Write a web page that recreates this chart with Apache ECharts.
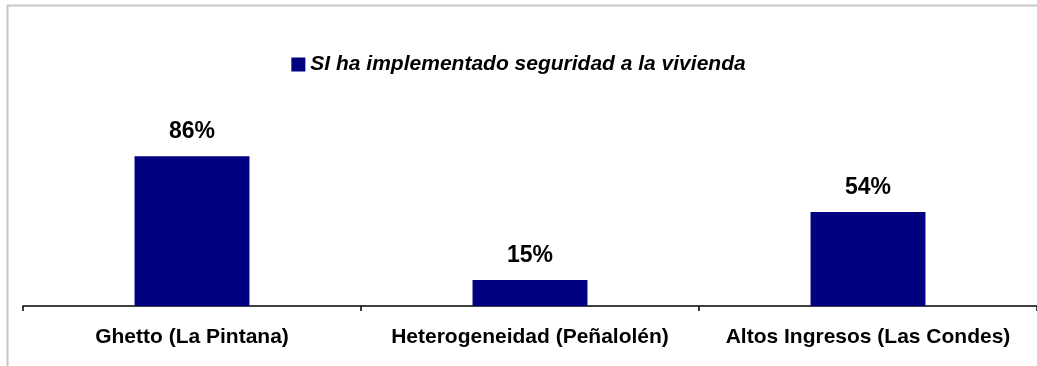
<!DOCTYPE html>
<html>
<head>
<meta charset="utf-8">
<script src="https://cdn.jsdelivr.net/npm/echarts@6/dist/echarts.min.js"></script>
<style>
  html, body { margin: 0; padding: 0; background: #fff; }
  #chart { width: 1037px; height: 366px; }
</style>
</head>
<body>
<div id="chart"></div>
<script>
// Chart data
const categories = ['Ghetto (La Pintana)', 'Heterogeneidad (Peñalolén)', 'Altos Ingresos (Las Condes)'];
const seriesName = 'SI ha implementado seguridad a la vivienda';
const values = [86, 15, 54];

const FONT = 'Liberation Sans, Arial, sans-serif';
const chart = echarts.init(document.getElementById('chart'), null, { renderer: 'canvas' });

chart.setOption({
  animation: false,
  backgroundColor: '#ffffff',
  textStyle: { fontFamily: FONT },
  legend: {
    data: [seriesName],
    top: 49,
    left: 'center',
    itemWidth: 14,
    itemHeight: 14,
    icon: 'rect',
    textStyle: {
      fontSize: 21,
      fontWeight: 'bold',
      fontStyle: 'italic',
      color: '#000',
      fontFamily: FONT
    }
  },
  grid: { left: 23, right: 0, top: 132, bottom: 60, containLabel: false },
  xAxis: {
    type: 'category',
    data: categories,
    axisLine: { lineStyle: { color: '#000', width: 1.5 } },
    axisTick: { show: true, length: 5, lineStyle: { color: '#000', width: 1.5 } },
    axisLabel: {
      interval: 0,
      hideOverlap: false,
      margin: 21,
      fontSize: 21,
      fontWeight: 'bold',
      color: '#000',
      fontFamily: FONT
    }
  },
  yAxis: {
    type: 'value',
    min: 0,
    max: 100,
    show: false,
    splitLine: { show: false }
  },
  series: [{
    name: seriesName,
    type: 'bar',
    data: values,
    barWidth: '34%',
    itemStyle: { color: '#000080' },
    label: {
      show: true,
      position: 'top',
      distance: 13,
      formatter: '{c}%',
      fontSize: 23,
      fontWeight: 'bold',
      color: '#000',
      fontFamily: FONT
    }
  }],
  graphic: [
    { type: 'line', shape: { x1: 7, y1: 5.5, x2: 1037, y2: 5.5 }, style: { stroke: '#c8c8c8', lineWidth: 2 } },
    { type: 'line', shape: { x1: 7.5, y1: 5, x2: 7.5, y2: 366 }, style: { stroke: '#c8c8c8', lineWidth: 2 } }
  ]
});
</script>
</body>
</html>
